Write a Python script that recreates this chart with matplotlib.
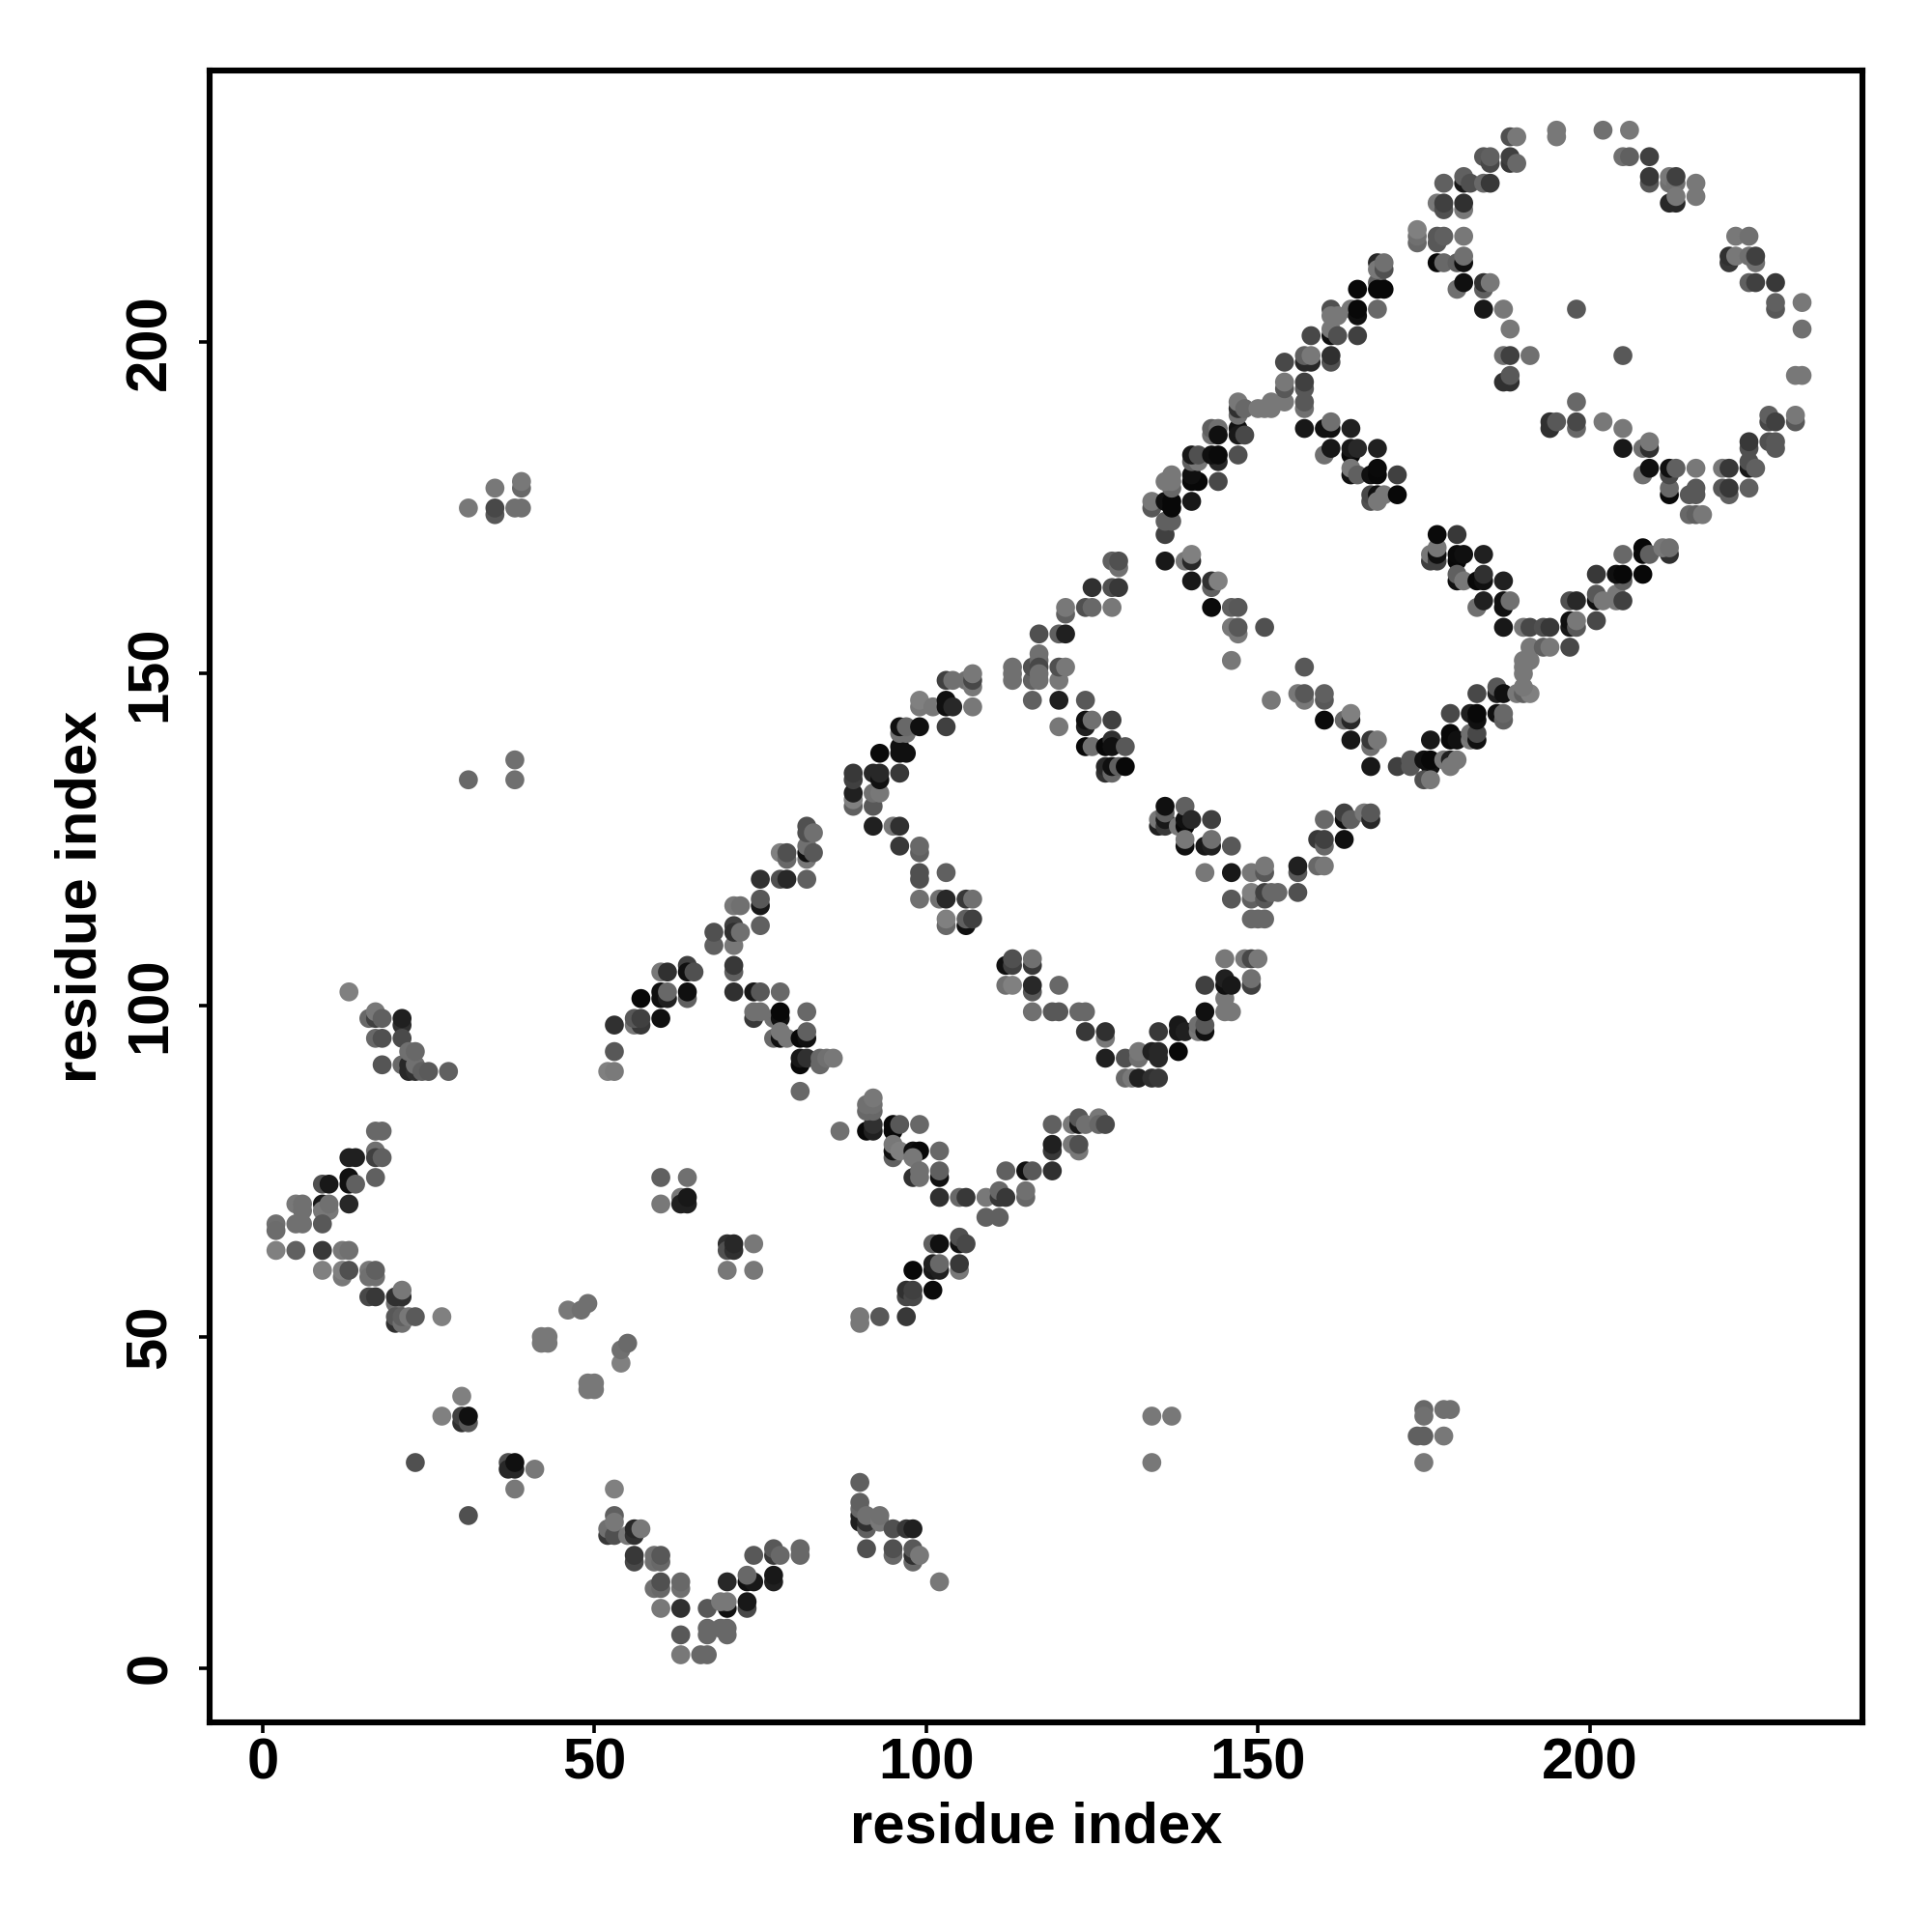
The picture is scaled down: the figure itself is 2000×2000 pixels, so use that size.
# contact map: residue index vs residue index, shaded dots
import matplotlib
matplotlib.use('Agg')
import matplotlib.pyplot as plt

plt.rcParams['font.family'] = ['Liberation Sans', 'DejaVu Sans']

# (residue i, residue j, grey level)
n_term_arm = [
    (2,67,0x70),(2,66,0x6c),(2,63,0x80),(5,70,0x78),(6,70,0x70),(6,69,0x70),(5,67,0x70),(6,67,0x70),(5,63,0x60),
    (9,73,0x50),(10,73,0x18),(9,70,0x18),(9,69,0x78),(10,69,0x78),(10,70,0x70),(9,67,0x58),(9,63,0x38),
    (13,77,0x20),(14,77,0x20),(13,74,0x10),(13,73,0x10),(14,73,0x60),(13,70,0x28),(12,63,0x78),(13,63,0x70),
    (17,81,0x68),(18,81,0x68),(17,78,0x70),(17,77,0x40),(18,77,0x60),(17,74,0x60),
    (9,60,0x80),(12,59,0x78),(12,60,0x80),(13,60,0x50),(16,60,0x78),(16,59,0x70),(17,59,0x70),(17,60,0x60),
    (16,56,0x48),(17,56,0x38),(20,55,0x70),(20,56,0x30),(21,56,0x30),(21,57,0x78),
    (20,52,0x30),(20,53,0x58),(21,52,0x70),(21,53,0x60),(22,53,0x78),(23,53,0x5a),(27,53,0x80),
]
upper_left_arm = [
    (13,102,0x80),(16,98,0x68),(17,98,0x40),(17,99,0x78),(18,98,0x60),(17,95,0x68),(18,95,0x50),
    (21,97,0x30),(21,98,0x20),(21,95,0x4a),(18,91,0x55),(21,91,0x68),(22,90,0x28),(22,91,0x28),(23,90,0x30),
    (23,91,0x70),(22,93,0x70),(23,93,0x68),(24,90,0x60),(25,90,0x5a),(28,90,0x60),
]
scattered_low = [
    (46,54,0x78),(48,54,0x70),(49,55,0x70),(42,50,0x78),(43,50,0x78),(42,49,0x78),(43,49,0x78),
    (54,46,0x80),(54,48,0x70),(55,49,0x6a),(49,43,0x78),(50,43,0x78),(49,42,0x78),(50,42,0x78),
    (30,41,0x80),(27,38,0x80),(30,37,0x30),(30,38,0x40),(31,37,0x58),(31,38,0x10),(23,31,0x50),
    (37,31,0x50),(37,30,0x28),(38,30,0x28),(38,31,0x10),(41,30,0x78),(38,27,0x78),(31,23,0x50),
    (60,74,0x60),(64,74,0x70),(60,70,0x78),(63,71,0x78),(63,70,0x20),(64,70,0x20),(64,71,0x18),
    (70,64,0x30),(70,63,0x50),(71,63,0x30),(71,64,0x28),(74,64,0x78),(70,60,0x78),(74,60,0x78),
    (31,175,0x78),(35,178,0x78),(35,174,0x58),(35,175,0x48),(38,175,0x70),(39,175,0x70),(39,178,0x68),(39,179,0x78),
    (38,137,0x70),(31,134,0x68),(38,134,0x70),
    (134,38,0x78),(137,38,0x78),(134,31,0x78),(175,39,0x68),(175,38,0x70),(178,39,0x70),(179,39,0x70),
    (174,35,0x60),(175,35,0x60),(178,35,0x78),(175,31,0x78),
]
bottom_vee = [
    (53,27,0x80),(53,23,0x60),(52,20,0x38),(52,21,0x70),(53,20,0x50),(53,22,0x78),(55,20,0x78),(56,20,0x30),(56,21,0x28),(57,21,0x78),
    (56,16,0x48),(56,17,0x38),(59,16,0x70),(59,17,0x70),(60,16,0x68),(60,17,0x58),
    (59,12,0x70),(60,12,0x68),(60,13,0x50),(63,12,0x70),(63,13,0x68),(60,9,0x78),(63,9,0x30),
    (63,5,0x58),(63,2,0x78),(66,2,0x68),(67,2,0x68),(67,9,0x58),(67,5,0x68),(67,6,0x68),
    (69,6,0x68),(70,5,0x68),(70,6,0x68),(70,9,0x10),(69,10,0x78),(70,10,0x78),(70,13,0x28),
    (73,9,0x48),(73,10,0x18),(73,13,0x10),(74,13,0x18),(73,14,0x68),(77,13,0x20),(77,14,0x18),
    (74,17,0x58),(77,17,0x38),(77,18,0x58),(78,17,0x68),(81,17,0x68),(81,18,0x68),
    (90,28,0x60),(90,22,0x20),(90,23,0x20),(90,24,0x68),(90,25,0x60),(91,21,0x60),(91,22,0x30),(91,23,0x70),(93,22,0x78),(93,23,0x70),
    (95,21,0x50),(97,21,0x38),(98,21,0x20),(91,18,0x50),(95,17,0x68),(95,18,0x50),
    (98,16,0x68),(98,17,0x30),(98,18,0x58),(99,17,0x78),(102,13,0x78),
]
diag_low = [
    (52,90,0x80),(53,90,0x7a),(53,93,0x58),(53,97,0x30),(56,97,0x78),(57,97,0x38),(56,98,0x58),(57,98,0x40),
    (60,98,0x10),(57,101,0x08),(60,101,0x10),(60,102,0x10),(61,101,0x20),(61,102,0x68),(64,101,0x60),(64,102,0x10),
    (60,105,0x78),(61,105,0x30),(64,106,0x40),(64,105,0x10),(65,105,0x50),(68,109,0x60),(68,111,0x50),
    (71,109,0x78),(71,112,0x40),(71,111,0x30),(72,111,0x70),(71,115,0x78),(72,115,0x70),
    (75,112,0x60),(75,115,0x18),(75,116,0x58),(75,119,0x30),(78,119,0x50),(79,119,0x28),(82,119,0x60),
    (78,123,0x80),(79,122,0x68),(79,123,0x50),(82,122,0x78),(82,123,0x10),(82,124,0x70),(83,123,0x58),
    (82,127,0x50),(82,126,0x50),(83,126,0x70),
    (89,130,0x60),(89,131,0x80),(89,132,0x20),(89,134,0x40),(89,135,0x38),(92,130,0x58),(92,132,0x70),(93,132,0x78),
    (92,135,0x28),(93,134,0x10),(93,135,0x28),(92,127,0x20),(95,127,0x78),(96,127,0x30),(96,135,0x38),
    (93,138,0x0a),(96,139,0x10),(96,138,0x10),(97,138,0x10),(96,141,0x70),(97,141,0x70),(96,142,0x10),(97,142,0x68),(99,142,0x10),(103,142,0x40),
    (99,145,0x78),(99,146,0x80),(101,145,0x78),(103,146,0x10),(103,145,0x10),(104,145,0x28),(107,145,0x78),
    (103,149,0x40),(104,149,0x70),(106,149,0x70),(107,148,0x78),(107,149,0x48),(107,150,0x78),
]
strand_one = [
    (71,105,0x60),(71,106,0x38),(71,102,0x30),(74,102,0x18),(75,102,0x58),(78,102,0x68),
    (74,98,0x38),(74,99,0x70),(75,99,0x70),(77,98,0x70),(78,98,0x10),(78,99,0x08),(82,99,0x68),
    (77,95,0x68),(78,95,0x10),(78,96,0x78),(79,95,0x78),(81,95,0x08),(82,95,0x10),(82,96,0x60),
    (81,91,0x08),(81,92,0x18),(82,92,0x30),(84,91,0x68),(84,92,0x68),(85,92,0x70),(86,92,0x78),(81,87,0x68),
    (87,81,0x70),(91,81,0x08),(92,81,0x20),(92,82,0x30),(91,84,0x68),(92,84,0x68),(91,85,0x70),(92,85,0x70),(92,86,0x78),
    (95,81,0x08),(95,82,0x08),(96,82,0x58),(99,82,0x68),(95,77,0x60),(95,78,0x10),(95,79,0x78),(96,78,0x80),
    (98,78,0x10),(99,78,0x08),(98,77,0x78),(102,78,0x68),(98,74,0x30),(99,74,0x70),(99,75,0x70),
    (102,74,0x10),(102,75,0x60),
]
strand_one_b = [
    (90,53,0x78),(90,52,0x78),(93,53,0x58),(97,53,0x38),(97,56,0x48),(97,57,0x30),(98,56,0x48),(98,57,0x40),(101,57,0x0a),
    (98,60,0x08),(101,60,0x18),(101,61,0x20),(102,60,0x20),(102,61,0x68),(105,60,0x78),(105,61,0x38),
    (101,64,0x60),(102,64,0x10),(105,64,0x10),(105,65,0x50),(106,64,0x48),
    (102,71,0x30),(105,71,0x68),(106,71,0x38),(109,71,0x78),(111,71,0x38),(111,72,0x68),(112,71,0x38),
    (109,68,0x60),(111,68,0x60),(115,71,0x68),(115,72,0x70),
    (112,75,0x60),(115,75,0x10),(116,75,0x58),(119,75,0x30),(119,78,0x38),(119,79,0x20),
    (122,79,0x78),(123,78,0x78),(123,79,0x50),(119,82,0x60),(122,82,0x78),(123,82,0x18),(123,83,0x58),(124,82,0x70),
    (126,83,0x78),(126,82,0x68),(127,82,0x4a),
]
strand_two = [
    (96,124,0x38),(99,123,0x60),(99,124,0x68),(99,119,0x50),(99,120,0x50),(103,120,0x60),
    (99,116,0x70),(102,116,0x70),(103,116,0x28),(106,116,0x38),(107,116,0x70),
    (103,112,0x68),(103,113,0x80),(106,112,0x10),(106,113,0x60),(107,113,0x40),
    (112,106,0x10),(113,106,0x40),(113,107,0x50),(116,106,0x38),(116,107,0x70),
    (116,102,0x58),(116,103,0x28),(112,103,0x70),(113,103,0x80),(120,103,0x68),
    (116,99,0x70),(119,99,0x58),(120,99,0x58),(123,99,0x68),(124,99,0x68),
    (124,96,0x38),(127,95,0x78),(127,96,0x30),(127,92,0x20),(130,92,0x50),(132,92,0x70),(132,93,0x78),
    (134,93,0x20),(135,92,0x28),(135,93,0x28),(138,93,0x08),
    (130,89,0x68),(131,89,0x78),(132,89,0x20),(134,89,0x30),(135,89,0x38),
    (135,96,0x38),(138,96,0x18),(138,97,0x18),(139,96,0x20),(141,96,0x78),(141,97,0x70),(142,96,0x10),(142,97,0x58),
    (142,99,0x10),(142,103,0x40),(145,99,0x78),(146,99,0x78),(145,101,0x78),(145,103,0x10),(145,104,0x20),(146,103,0x18),
    (149,103,0x40),(149,104,0x70),(145,107,0x78),(148,107,0x78),(149,107,0x48),(150,107,0x78),
]
strand_three = [
    (113,149,0x70),(113,150,0x70),(113,151,0x70),(116,149,0x60),(116,151,0x50),(117,152,0x68),(117,153,0x70),(117,151,0x48),(117,149,0x70),(117,150,0x70),
    (120,149,0x78),(120,151,0x50),(121,151,0x78),(117,156,0x50),(120,156,0x60),(121,156,0x20),
    (121,159,0x60),(121,160,0x78),(124,160,0x50),(125,160,0x68),(125,163,0x30),(128,160,0x78),(128,163,0x50),(129,163,0x38),
    (128,167,0x60),(129,166,0x70),(129,167,0x50),
    (116,146,0x60),(120,146,0x20),(124,146,0x58),(120,142,0x78),(124,142,0x20),(124,143,0x10),(125,143,0x70),(128,143,0x40),
    (124,139,0x08),(125,139,0x70),(127,139,0x08),(128,140,0x30),(128,139,0x10),(130,139,0x58),
    (127,135,0x30),(127,136,0x28),(128,135,0x68),(128,136,0x10),(129,136,0x60),(130,136,0x08),
    (135,127,0x20),(135,128,0x78),(136,127,0x38),(136,128,0x18),(136,129,0x60),(136,130,0x10),
    (138,127,0x78),(139,127,0x08),(139,128,0x10),(139,130,0x60),(140,128,0x28),(143,128,0x40),
    (139,124,0x10),(139,125,0x78),(142,124,0x18),(143,124,0x20),(143,125,0x70),(146,124,0x58),
    (142,120,0x78),(146,120,0x18),(149,120,0x78),(151,120,0x58),(151,121,0x78),
    (146,116,0x58),(149,116,0x60),(149,117,0x80),(151,116,0x58),(151,117,0x40),(152,117,0x68),(153,117,0x68),
    (149,113,0x68),(150,113,0x68),(151,113,0x68),
    (156,117,0x50),(156,120,0x58),(156,121,0x20),(159,121,0x68),(160,121,0x78),
    (159,125,0x38),(160,124,0x68),(160,125,0x40),(163,125,0x10),(160,128,0x68),
    (163,128,0x10),(163,129,0x40),(164,128,0x60),(166,129,0x78),(167,128,0x28),(167,129,0x58),
]
diag_mid = [
    (134,175,0x58),(134,176,0x78),(136,171,0x40),(136,173,0x60),(137,173,0x60),(136,176,0x10),(137,175,0x08),(137,176,0x08),(140,176,0x18),
    (137,178,0x68),(136,179,0x78),(137,179,0x78),(137,180,0x78),(140,179,0x08),(141,179,0x08),(140,180,0x10),(144,179,0x48),
    (140,182,0x60),(141,182,0x78),(140,183,0x18),(141,183,0x50),(144,182,0x28),(143,183,0x10),(144,183,0x0a),(147,183,0x50),
    (143,186,0x70),(143,187,0x60),(144,187,0x70),(144,186,0x10),(147,187,0x10),(147,186,0x18),(148,186,0x48),
    (147,189,0x70),(147,190,0x30),(147,191,0x78),(148,190,0x68),(150,190,0x78),(151,190,0x78),(152,190,0x78),(152,191,0x78),
    (154,191,0x78),(154,193,0x58),(154,194,0x78),(157,190,0x70),(157,191,0x58),(157,193,0x58),(157,194,0x40),
    (154,197,0x48),(157,197,0x28),(158,197,0x28),(157,198,0x60),(158,198,0x78),(158,201,0x48),
    (161,197,0x50),(161,198,0x30),(161,201,0x10),(161,202,0x78),(162,201,0x50),(165,201,0x40),
    (161,205,0x50),(161,204,0x78),(162,204,0x78),(164,205,0x78),(165,204,0x10),(165,205,0x08),(168,205,0x68),
    (165,208,0x08),(168,209,0x60),(168,208,0x08),(169,208,0x08),(168,212,0x28),(168,211,0x78),(169,211,0x50),(169,212,0x70),
]
strand_four = [
    (157,187,0x18),(160,187,0x10),(161,187,0x10),(161,188,0x70),(164,187,0x20),(160,183,0x70),(161,184,0x18),
    (164,183,0x08),(164,184,0x18),(165,184,0x28),(168,184,0x20),(164,180,0x10),(164,181,0x78),(165,180,0x60),
    (167,180,0x10),(168,180,0x08),(168,181,0x0a),(171,180,0x40),(167,176,0x50),(167,177,0x48),(168,177,0x10),(168,176,0x78),(169,177,0x78),(171,177,0x08),
    (136,167,0x18),(139,167,0x78),(140,167,0x28),(140,168,0x80),(140,164,0x18),(143,163,0x60),(143,164,0x30),(144,164,0x80),
    (143,160,0x0a),(146,160,0x60),(147,160,0x58),(146,157,0x78),(147,156,0x78),(147,157,0x58),(151,157,0x50),(146,152,0x78),
    (157,151,0x58),(152,146,0x78),(156,147,0x78),(157,146,0x78),(157,147,0x58),(160,146,0x58),(160,147,0x60),
    (160,143,0x0a),(163,143,0x68),(164,143,0x28),(164,144,0x80),(164,140,0x18),(167,139,0x70),(167,140,0x38),(168,140,0x78),
    (167,136,0x18),(171,136,0x40),(173,136,0x58),(173,137,0x58),(175,137,0x10),(176,136,0x10),(176,137,0x08),(175,134,0x50),(176,134,0x78),
    (178,137,0x78),(179,137,0x20),(179,136,0x78),(180,137,0x78),
    (176,140,0x18),(179,140,0x08),(179,141,0x08),(180,140,0x10),(182,140,0x78),(182,141,0x70),(183,140,0x10),(183,141,0x48),
    (179,144,0x48),(182,144,0x20),(183,143,0x10),(183,144,0x08),(186,144,0x10),(187,143,0x60),(187,144,0x68),
    (183,147,0x48),(186,147,0x20),(186,148,0x58),(187,147,0x10),(189,147,0x78),(190,147,0x60),(191,147,0x80),
    (190,148,0x78),(190,150,0x78),(190,151,0x78),(190,152,0x78),(191,152,0x78),(191,154,0x78),(193,154,0x60),(194,154,0x78),(197,154,0x48),
    (187,157,0x18),(190,157,0x78),(191,157,0x48),(193,157,0x50),(194,157,0x38),
    (197,157,0x18),(197,158,0x10),(198,157,0x58),(198,158,0x78),(201,158,0x48),
    (197,161,0x50),(198,161,0x28),(201,161,0x10),(201,162,0x58),(202,161,0x78),(204,161,0x78),(204,162,0x78),(205,161,0x40),(205,164,0x60),
    (201,165,0x38),(204,165,0x10),(205,165,0x08),(208,165,0x08),(205,168,0x68),(208,168,0x08),(208,169,0x08),(209,168,0x60),
    (212,168,0x30),(211,169,0x78),(212,169,0x70),
]
strand_five = [
    (176,167,0x40),(176,168,0x78),(177,167,0x40),(177,168,0x10),(177,169,0x78),(177,171,0x0a),(180,171,0x38),
    (180,167,0x08),(180,168,0x0a),(181,168,0x10),(184,168,0x20),(180,164,0x10),(180,165,0x60),(181,164,0x78),
    (183,164,0x08),(184,164,0x10),(184,165,0x30),(187,164,0x20),(183,160,0x70),(184,161,0x20),(187,160,0x10),(187,161,0x10),(188,161,0x70),
]
ring_left = [
    (174,215,0x68),(174,216,0x70),(174,217,0x80),(177,215,0x58),(177,216,0x58),(178,216,0x60),(181,216,0x78),
    (177,212,0x08),(178,212,0x68),(180,212,0x60),(181,212,0x10),(181,213,0x70),
    (180,208,0x70),(181,209,0x10),(184,208,0x60),(184,209,0x30),(185,209,0x78),(184,205,0x18),(187,205,0x78),(188,202,0x78),
    (187,198,0x70),(188,198,0x40),(191,198,0x70),(187,194,0x30),(188,194,0x30),(188,195,0x58),
    (177,221,0x78),(178,220,0x50),(178,221,0x40),(181,220,0x78),(181,221,0x30),
    (178,224,0x60),(181,224,0x18),(181,225,0x60),(182,224,0x50),(184,224,0x68),(185,224,0x38),
    (184,228,0x58),(185,227,0x48),(185,228,0x60),(188,227,0x38),(188,228,0x40),(189,227,0x68),
    (188,231,0x50),(189,231,0x78),(195,231,0x78),(195,232,0x78),(202,232,0x70),(206,232,0x78),
    (198,205,0x58),(205,198,0x58),(198,191,0x68),
]
ring_right = [
    (205,228,0x70),(206,228,0x60),(209,228,0x40),(209,224,0x58),(209,225,0x38),(212,224,0x70),(212,225,0x78),(213,224,0x70),(213,225,0x40),
    (216,222,0x78),(216,224,0x78),(212,221,0x28),(213,221,0x28),(213,222,0x78),
    (221,212,0x38),(221,213,0x30),(222,213,0x78),(224,213,0x70),(225,212,0x70),(225,213,0x40),(222,216,0x78),(224,216,0x70),
    (224,209,0x60),(225,209,0x40),(228,209,0x38),(228,205,0x58),(228,206,0x60),(232,206,0x78),(232,202,0x70),(231,195,0x78),(232,195,0x78),
    (227,188,0x48),(227,189,0x60),(228,188,0x40),(231,188,0x58),(231,189,0x78),
    (227,185,0x50),(228,184,0x58),(228,185,0x58),(224,181,0x18),(224,182,0x50),(225,181,0x60),(224,184,0x50),(224,185,0x38),
    (220,181,0x78),(221,181,0x38),(220,178,0x58),(221,177,0x60),(221,178,0x38),(224,178,0x60),
    (216,181,0x78),(215,177,0x58),(216,177,0x58),(216,178,0x58),(215,174,0x68),(216,174,0x60),(217,174,0x78),
    (212,177,0x08),(212,178,0x68),(212,180,0x48),(212,181,0x10),(213,181,0x60),
    (208,180,0x70),(209,181,0x10),(208,184,0x70),(209,184,0x30),(209,185,0x78),(205,184,0x18),
    (194,187,0x30),(194,188,0x30),(195,188,0x58),(198,187,0x68),(198,188,0x48),(202,188,0x78),(205,187,0x78),
]

segments = [n_term_arm, upper_left_arm, scattered_low, bottom_vee, diag_low, strand_one, strand_one_b,
            strand_two, strand_three, diag_mid, strand_four, strand_five, ring_left, ring_right]

res_i = [p[0] for seg in segments for p in seg]
res_j = [p[1] for seg in segments for p in seg]
shades = [(p[2] / 255,) * 3 for seg in segments for p in seg]

xticks = [0, 50, 100, 150, 200]
yticks = [0, 50, 100, 150, 200]

fig = plt.figure(figsize=(10, 10), dpi=200)
ax = fig.add_axes([217 / 2000, 1 - 1783 / 2000, 1711 / 2000, 1710 / 2000])
ax.scatter(res_i, res_j, s=50, c=shades, linewidths=0, zorder=3)

ax.set_xlim(-8, 241.1)
ax.set_ylim(-8.2, 241)
ax.set_xticks(xticks)
ax.set_yticks(yticks)
ax.tick_params(length=4, width=1.3, labelsize=21.5)
ax.tick_params(axis='x', pad=1.5)
ax.tick_params(axis='y', pad=8)
for lab in ax.get_xticklabels():
    lab.set_fontweight('bold')
for lab in ax.get_yticklabels():
    lab.set_fontweight('bold')
    lab.set_rotation(90)
    lab.set_va('center')
for sp in ax.spines.values():
    sp.set_linewidth(2.2)

ax.set_xlabel("residue index", fontsize=21.5, fontweight='bold', labelpad=4)
ax.set_ylabel("residue index", fontsize=21.5, fontweight='bold', labelpad=6)

plt.savefig('out.png', dpi=200, facecolor='white')
plt.close()
